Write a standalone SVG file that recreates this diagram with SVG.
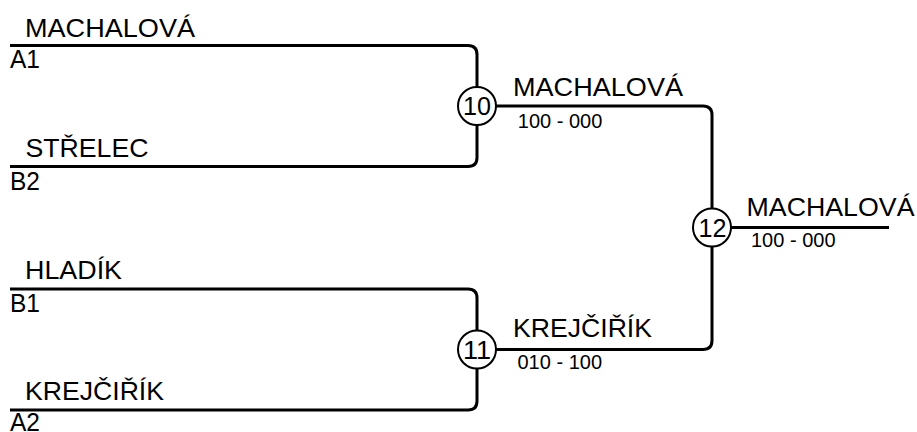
<svg xmlns="http://www.w3.org/2000/svg" width="917" height="432" viewBox="0 0 917 432">
  <style>
    .ln { fill: none; stroke: #000; stroke-width: 3; stroke-linejoin: round; }
    .circ { fill: #fff; stroke: #000; stroke-width: 2; }
    text { font-family: "Liberation Sans", Arial, sans-serif; fill: #000; }
    .name { font-size: 25px; }
    .seed { font-size: 25px; }
    .score { font-size: 20px; }
    .num { font-size: 25px; text-anchor: middle; }
  </style>
  <rect width="917" height="432" fill="#fff"/>
  <g id="connectors">
    <path class="ln" d="M10 45.5 H468 Q477 45.5 477 54.5 V87"/>
    <path class="ln" d="M477 125 V157.5 Q477 166.5 468 166.5 H10"/>
    <path class="ln" d="M10 289 H468 Q477 289 477 298 V330.5"/>
    <path class="ln" d="M477 368.5 V401 Q477 410 468 410 H10"/>
    <path class="ln" d="M496 106 H703 Q712 106 712 115 V208.5"/>
    <path class="ln" d="M496 349.5 H703 Q712 349.5 712 340.5 V246.5"/>
    <path class="ln" d="M731 227.5 H889"/>
  </g>
  <g id="entry-a1">
    <text class="name" x="25" y="36.5" textLength="170" lengthAdjust="spacingAndGlyphs">MACHALOVÁ</text>
    <text class="seed" x="10" y="68" textLength="30" lengthAdjust="spacingAndGlyphs">A1</text>
  </g>
  <g id="entry-b2">
    <text class="name" x="25.5" y="157" textLength="123" lengthAdjust="spacingAndGlyphs">STŘELEC</text>
    <text class="seed" x="10" y="190" textLength="30" lengthAdjust="spacingAndGlyphs">B2</text>
  </g>
  <g id="entry-b1">
    <text class="name" x="25" y="279" textLength="97" lengthAdjust="spacingAndGlyphs">HLADÍK</text>
    <text class="seed" x="10" y="311.5" textLength="30" lengthAdjust="spacingAndGlyphs">B1</text>
  </g>
  <g id="entry-a2">
    <text class="name" x="25" y="400" textLength="139" lengthAdjust="spacingAndGlyphs">KREJČIŘÍK</text>
    <text class="seed" x="10" y="430.5" textLength="30" lengthAdjust="spacingAndGlyphs">A2</text>
  </g>
  <g id="match-10">
    <circle class="circ" cx="477" cy="106" r="19"/>
    <text class="num" x="477" y="115" textLength="28" lengthAdjust="spacingAndGlyphs">10</text>
    <text class="name" x="513" y="95.5" textLength="170" lengthAdjust="spacingAndGlyphs">MACHALOVÁ</text>
    <text class="score" x="517.8" y="128">100 - 000</text>
  </g>
  <g id="match-11">
    <circle class="circ" cx="477" cy="349.5" r="19"/>
    <text class="num" x="477" y="358.5" textLength="28" lengthAdjust="spacingAndGlyphs">11</text>
    <text class="name" x="513" y="337" textLength="139" lengthAdjust="spacingAndGlyphs">KREJČIŘÍK</text>
    <text class="score" x="517.5" y="368.5">010 - 100</text>
  </g>
  <g id="match-12">
    <circle class="circ" cx="712" cy="227.5" r="19"/>
    <text class="num" x="712.5" y="236.5" textLength="28" lengthAdjust="spacingAndGlyphs">12</text>
    <text class="name" x="746.5" y="215.5" textLength="168" lengthAdjust="spacingAndGlyphs">MACHALOVÁ</text>
    <text class="score" x="751" y="247">100 - 000</text>
  </g>
</svg>
